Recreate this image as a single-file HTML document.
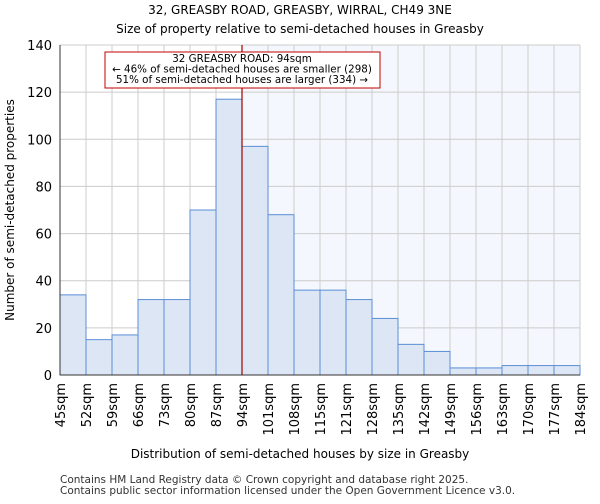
<!DOCTYPE html>
<html><head><meta charset="utf-8"><style>
body{margin:0;background:#fff;font-family:"DejaVu Sans","Liberation Sans",sans-serif}
</style></head><body>
<svg id="c" width="600" height="500" xmlns="http://www.w3.org/2000/svg" font-family="DejaVu Sans, Liberation Sans, sans-serif">
<text x="300" y="14" text-anchor="middle" font-size="12">32, GREASBY ROAD, GREASBY, WIRRAL, CH49 3NE</text>
<text x="300" y="33" text-anchor="middle" font-size="12">Size of property relative to semi-detached houses in Greasby</text>
<g id="plot"></g>
<text x="300" y="458" text-anchor="middle" font-size="12">Distribution of semi-detached houses by size in Greasby</text>
<text transform="translate(14,210) rotate(-90)" text-anchor="middle" font-size="12">Number of semi-detached properties</text>
<text x="60" y="483" font-size="10.5" fill="#333">Contains HM Land Registry data © Crown copyright and database right 2025.</text>
<text x="60" y="494" font-size="10.5" fill="#333">Contains public sector information licensed under the Open Government Licence v3.0.</text>
</svg>
<script>
const categories=["45sqm","52sqm","59sqm","66sqm","73sqm","80sqm","87sqm","94sqm","101sqm","108sqm","115sqm","121sqm","128sqm","135sqm","142sqm","149sqm","156sqm","163sqm","170sqm","177sqm","184sqm"];
const counts=[34,15,17,32,32,70,117,97,68,36,36,32,24,13,10,3,3,4,4,4];
const yTicks=[0,20,40,60,80,100,120,140];
const propertyBin=7;
const NS="http://www.w3.org/2000/svg";
const L=60,R=580,T=45,B=375,yMax=140;
const bw=(R-L)/counts.length;
const x=i=>L+i*bw;
const y=v=>B-(v/yMax)*(B-T);
const g=document.getElementById('plot');
function mk(t,a){const e=document.createElementNS(NS,t);for(const k in a)e.setAttribute(k,a[k]);g.appendChild(e);return e;}
let e=mk('rect',{x:x(propertyBin),y:T,width:R-x(propertyBin),height:B-T,fill:'#f4f7fd'});


yTicks.forEach(v=>{
 let l=mk('line',{x1:L,x2:R,y1:y(v),y2:y(v),stroke:'#ccc'});
 
 
 let t=mk('text',{x:L-8,y:y(v)+5,'text-anchor':'end','font-size':13});
 t.textContent=v;
 
 
});
categories.forEach((c,i)=>{
 let l=mk('line',{x1:x(i),x2:x(i),y1:T,y2:B,stroke:'#ccc'});
 
 
 let t=mk('text',{transform:`translate(${x(i)+5},${B+8}) rotate(-90)`,'text-anchor':'end','font-size':13});
 t.textContent=c;
 
 
});
counts.forEach((v,i)=>{
 let r=mk('rect',{x:x(i),y:y(v),width:bw,height:B-y(v),fill:'#dce6f5',stroke:'#5b8ed6','stroke-width':1});
 
 
});
let pl=mk('line',{x1:x(propertyBin),x2:x(propertyBin),y1:T,y2:B,stroke:'#a00000','stroke-width':1.2});


let ax=mk('line',{x1:L,x2:R,y1:B,y2:B,stroke:'#333'});


let ay=mk('line',{x1:L,x2:L,y1:T,y2:B,stroke:'#333'});


let box=mk('rect',{x:105,y:52,width:275,height:36,fill:'#fff',stroke:'#c00000'});


["32 GREASBY ROAD: 94sqm","← 46% of semi-detached houses are smaller (298)","51% of semi-detached houses are larger (334) →"].forEach((s,i)=>{
 let t=mk('text',{x:242,y:62+i*10.5,'text-anchor':'middle','font-size':10.3});
 t.textContent=s;
 
 
});
</script>
</body></html>
